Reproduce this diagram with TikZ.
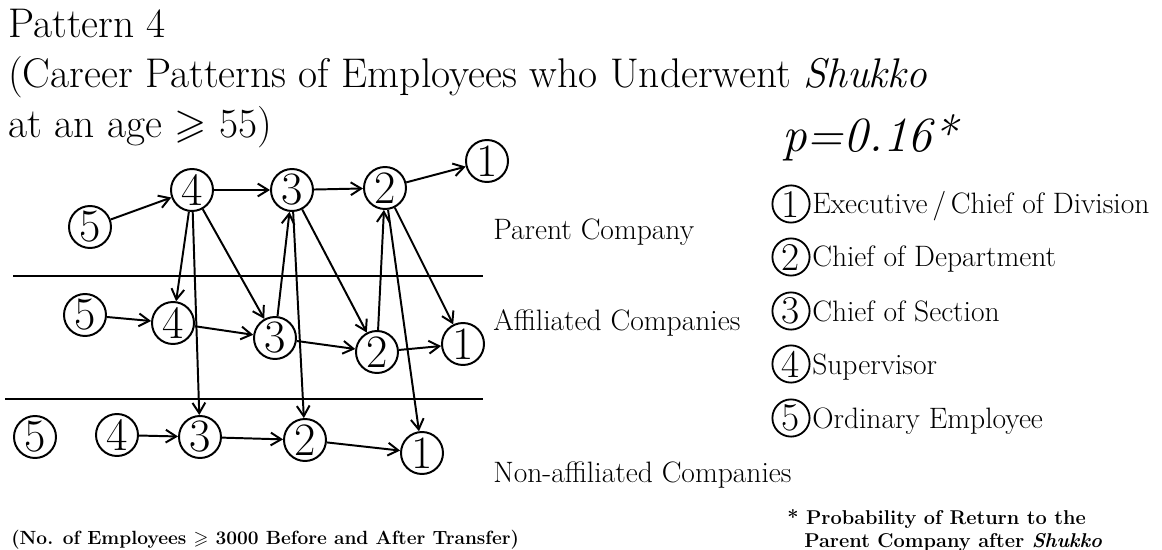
\documentclass[tikz,border=0pt]{standalone}
\usepackage{amsmath,amssymb}
\usetikzlibrary{arrows.meta}
\tikzset{
  post/.style={circle, draw, line width=1.4pt, minimum size=1.05cm, inner sep=0pt, font=\fontsize{33}{33}\selectfont},
  key/.style={circle, draw, line width=1.3pt, minimum size=0.93cm, inner sep=0pt, font=\fontsize{28}{28}\selectfont},
  move/.style={line width=1.4pt, -{Straight Barb[length=2.6mm,width=3.2mm]}},
  headline/.style={anchor=base west, inner sep=0pt, font=\fontsize{29.5}{34}\selectfont},
  lbl/.style={anchor=base west, inner sep=0pt, font=\fontsize{21}{25}\selectfont},
  note/.style={anchor=base west, inner sep=0pt, align=left, font=\fontsize{14.2}{27}\selectfont\bfseries}
}
\begin{document}
\begin{tikzpicture}[x=0.025cm, y=-0.025cm]
			%%%%% START %%%%%
			\useasboundingbox (0,0) rectangle (1162,550);
			
			\node[headline] (t1) at (8,38) {Pattern 4};
			\node[headline] (t2) at (8,88) {(Career Patterns of Employees who Underwent \textit{Shukko}};
			\node[headline] (t3) at (8,138) {at an age $\geqslant$ 55)};
			
			\draw[line width=1pt] (13,276) -- (483,276);
			\draw[line width=1pt] (5,399) -- (483,399);
			
			% parent company
			\node[post] (p5) at (90,227) {5};
			\node[post] (p4) at (192,190) {4};
			\node[post] (p3) at (292,190) {3};
			\node[post] (p2) at (385,188) {2};
			\node[post] (p1) at (487,161) {1};
			
			% affiliated companies
			\node[post] (a5) at (85,315) {5};
			\node[post] (a4) at (173,323) {4};
			\node[post] (a3) at (275,338) {3};
			\node[post] (a2) at (377,352) {2};
			\node[post] (a1) at (463,344) {1};
			
			% non-affiliated companies
			\node[post] (n5) at (35,437) {5};
			\node[post] (n4) at (117,435) {4};
			\node[post] (n3) at (200,437) {3};
			\node[post] (n2) at (305,440) {2};
			\node[post] (n1) at (422,453) {1};
			
			\draw[move] (p5) -- (p4);
			\draw[move] (p4) -- (p3);
			\draw[move] (p3) -- (p2);
			\draw[move] (p2) -- (p1);
			\draw[move] (a5) -- (a4);
			\draw[move] (a4) -- (a3);
			\draw[move] (a3) -- (a2);
			\draw[move] (a2) -- (a1);
			\draw[move] (n4) -- (n3);
			\draw[move] (n3) -- (n2);
			\draw[move] (n2) -- (n1);
			
			\draw[move] (p4) -- (a4);
			\draw[move] (p4) -- (n3);
			\draw[move] (p4) -- (a3);
			\draw[move] (a3) -- (p3);
			\draw[move] (p3) -- (a2);
			\draw[move] (p3) -- (n2);
			\draw[move] (a2) -- (p2);
			\draw[move] (p2) -- (a1);
			\draw[move] (p2) -- (n1);
			
			\node[lbl] (parent) at (493,240) {Parent Company};
			\node[lbl] (affil) at (493,330) {Affiliated Companies};
			\node[lbl] (nonaffil) at (493,482) {Non-affiliated Companies};
			
			\node[anchor=base west, inner sep=0pt, font=\fontsize{35}{40}\selectfont\itshape] (pval) at (782,152) {p=0.16*};
			
			\node[key] (k1) at (791,204) {1};
			\node[lbl] (k1t) at (812,214) {Executive\,/\,Chief of Division};
			\node[key] (k2) at (791,257) {2};
			\node[lbl] (k2t) at (812,267) {Chief of Department};
			\node[key] (k3) at (791,311) {3};
			\node[lbl] (k3t) at (812,321) {Chief of Section};
			\node[key] (k4) at (791,364) {4};
			\node[lbl] (k4t) at (812,374) {Supervisor};
			\node[key] (k5) at (791,418) {5};
			\node[lbl] (k5t) at (812,428) {Ordinary Employee};
			
			\node[note, font=\fontsize{13.6}{27}\selectfont\bfseries] (size) at (11,544) {(No. of Employees $\boldsymbol{\geqslant}$ 3000 Before and After Transfer)};
			\node[note] (star) at (787,524) {* Probability of Return to the};
			\node[note] (star2) at (804,547) {Parent Company after \textit{Shukko}};
			
			%%%%% END %%%%%
\end{tikzpicture}
\end{document}
